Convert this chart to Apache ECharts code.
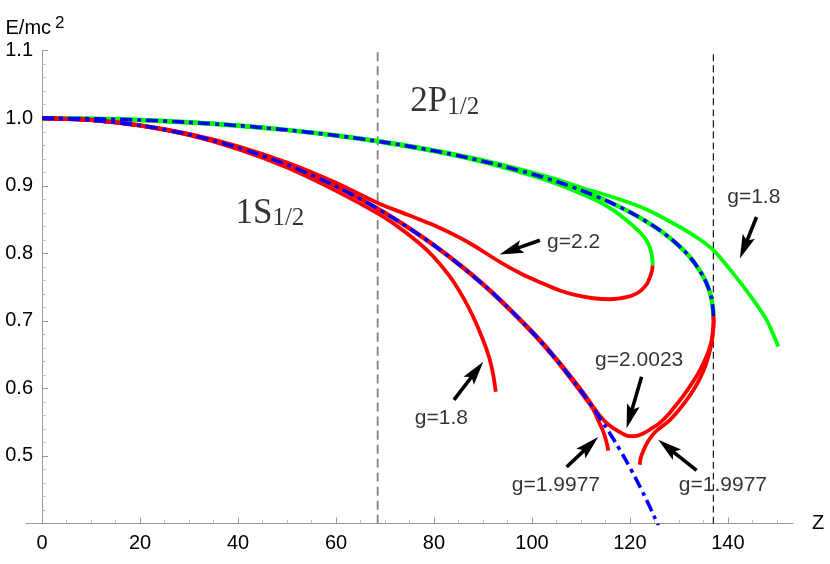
<!DOCTYPE html>
<html><head><meta charset="utf-8">
<script src="https://cdn.jsdelivr.net/npm/echarts@6/dist/echarts.min.js"></script>
<style>html,body{margin:0;padding:0;background:#fff}#c{width:830px;height:564px}</style>
</head><body><div id="c"></div>
<script>
// ---------- axis ticks ----------
const xMajorTicks = [0, 20, 40, 60, 80, 100, 120, 140];
const xMinorTicks = [5,10,15,25,30,35,45,50,55,65,70,75,85,90,95,105,110,115,125,130,135,145,150];
const yTickLabels = [0.5, 0.6, 0.7, 0.8, 0.9, 1.0, 1.1];
const yAxisTitle = 'E/mc';
const yAxisTitleSup = '2';
const xAxisTitle = 'Z';

// ---------- vertical reference lines (Z = 1/(2α), 1/α) ----------
const markerZ = [68.5, 137.036];
const markerE = [0.4, 1.1];

// ---------- Dirac (g = 2) curves, blue dash-dot ----------
const dirac1S = [[0,1.000],[10,0.9973],[20,0.9893],[30,0.9758],[40,0.9565],[50,0.9311],[60,0.8991],[70,0.8597],[80,0.8119],[90,0.7541],[95,0.7207],[100,0.6837],[105,0.6426],[110,0.5964],[113,0.5657],[115,0.5438],[117,0.5206],[119,0.4959],[121,0.4694],[123,0.4409],[125,0.4098],[126,0.3927]];
const dirac2P = [[0,1.000],[10,0.9993],[20,0.9973],[30,0.9939],[40,0.9891],[50,0.9826],[60,0.9744],[70,0.9643],[80,0.9518],[90,0.9365],[100,0.9175],[105,0.9063],[110,0.8934],[115,0.8786],[120,0.8611],[125,0.8396],[128,0.8238],[131,0.8042],[133,0.7877],[135,0.7654],[136,0.7493],[136.6,0.7347],[137,0.7152],[137.04,0.7071]];

// ---------- 2P1/2 (green) ----------
const p2_g20023 = [[0,1.000],[10,0.9993],[20,0.9973],[30,0.9939],[40,0.9891],[50,0.9826],[60,0.9744],[70,0.9643],[80,0.9518],[90,0.9365],[100,0.9175],[105,0.9063],[110,0.8934],[115,0.8786],[120,0.8611],[125,0.8396],[128,0.8238],[131,0.8042],[133,0.7877],[135,0.7654],[136,0.7493],[136.6,0.7347],[137,0.7152],[137.04,0.7071]];
const p2_g22 = [[0,1.000],[10,0.9993],[20,0.9972],[30,0.9938],[40,0.9889],[50,0.9823],[60,0.9739],[70,0.9636],[80,0.9508],[90,0.9350],[100,0.9150],[105,0.9030],[109.8,0.8890],[113.5,0.8770],[116.6,0.8640],[119.3,0.8490],[121.5,0.8350],[122.9,0.8240],[123.9,0.8120],[124.4,0.8000],[124.6,0.7900],[124.65,0.7820]];
const p2_g18 = [[0,1.000],[10,0.9993],[20,0.9974],[30,0.9941],[40,0.9893],[50,0.9829],[60,0.9750],[70,0.9650],[80,0.9528],[90,0.9380],[100,0.9200],[105,0.9095],[110,0.8975],[116.6,0.8830],[123.4,0.8650],[130.2,0.8390],[134,0.8220],[137,0.8050],[141,0.7710],[145.2,0.7310],[148,0.7000],[150.3,0.6620]];

// ---------- 1S1/2 (red) ----------
const s1_g20023 = [[0,1.000],[10,0.9973],[20,0.9894],[30,0.9760],[40,0.9568],[50,0.9315],[60,0.8996],[70,0.8603],[80,0.8126],[90,0.7550],[100,0.6848],[105,0.6440],[110,0.5985],[113,0.5680],[114,0.5585],[115,0.5505],[116,0.5445],[117.2,0.5385],[118.5,0.5330],[119.7,0.5295],[121,0.5295],[122.5,0.5325],[124.3,0.5400],[126.1,0.5490],[127.8,0.5610],[129.5,0.5760],[131.2,0.5920],[132.9,0.6100],[134.0,0.6230],[135.0,0.6370],[136.0,0.6540],[136.7,0.6720],[137.0,0.6880],[137.1,0.7000],[137.04,0.7071]];
const s1_g19977L = [[0,1.000],[10,0.9972],[20,0.9892],[30,0.9756],[40,0.9561],[50,0.9306],[60,0.8986],[70,0.8591],[80,0.8112],[90,0.7532],[100,0.6826],[105,0.6412],[110,0.5943],[111.8,0.5765],[112.8,0.5650],[113.5,0.5530],[114.4,0.5390],[115.1,0.5240],[115.6,0.5080]];
const s1_g19977R = [[122.0,0.4870],[122.2,0.4970],[122.7,0.5070],[123.4,0.5180],[124.3,0.5280],[125.4,0.5370],[126.8,0.5450],[128.2,0.5535],[130.0,0.5680],[131.6,0.5830],[133.0,0.5980],[134.3,0.6150],[135.4,0.6330],[136.2,0.6520],[136.7,0.6680],[137.0,0.6860],[137.08,0.7000],[137.04,0.7071]];
const s1_g22 = [[0,1.000],[10,0.9974],[20,0.9897],[30,0.9768],[40,0.9585],[50,0.9345],[60,0.9045],[68.5,0.8745],[75,0.8560],[80,0.8415],[86.7,0.8175],[93.5,0.7870],[98,0.7690],[102,0.7560],[105.7,0.7450],[109,0.7380],[112.5,0.7335],[116,0.7320],[119.3,0.7350],[121.2,0.7400],[122.4,0.7460],[123.5,0.7550],[124.1,0.7650],[124.5,0.7740],[124.65,0.7820]];
const s1_g18 = [[0,1.000],[10,0.9972],[20,0.9889],[30,0.9748],[40,0.9543],[50,0.9270],[60,0.8925],[68.5,0.8590],[73.1,0.8370],[77,0.8150],[79.9,0.7950],[83.3,0.7650],[86,0.7340],[88,0.7060],[90,0.6720],[91.3,0.6450],[92.1,0.6200],[92.6,0.5950]];

// ---------- annotations ----------
const annotText = ['g=2.2', 'g=1.8', 'g=2.0023', 'g=1.8', 'g=1.9977', 'g=1.9977'];
const annotPos  = [[108.5,0.8171],[145.3,0.8832],[121.9,0.6418],[81.5,0.5557],[104.9,0.4572],[139.0,0.4572]];
const arrowFrom = [[101.63,0.8194],[145.86,0.8538],[122.39,0.6174],[84.08,0.5830],[107.08,0.4836],[133.61,0.4786]];
const arrowTo   = [[93.39,0.7982],[142.45,0.7923],[119.33,0.5412],[90.06,0.6396],[113.53,0.5279],[125.78,0.5239]];
const levelText = ['2P', '1S'];
const levelSub  = '1/2';
const levelPos  = [[82.2,1.0241],[46.5,0.8586]];

const SANS = 'Liberation Sans, Arial, sans-serif';
const SERIF = 'Liberation Serif, Times New Roman, serif';
const RED = '#ff0000', GREEN = '#00ff00', BLUE = '#0000ff';

function curve(name, data, color, width, type, z) {
  return { name, type: 'line', data, symbol: 'none', showSymbol: false, smooth: 0.3, clip: true, silent: true,
    lineStyle: { color, width, type: type || 'solid', cap: 'butt', join: 'round' }, z: z || 2 };
}

// arrow drawn in pixel space from two data points (tail, tip)
function renderArrow(params, api) {
  const p0 = api.coord([api.value(0), api.value(1)]);
  const p1 = api.coord([api.value(2), api.value(3)]);
  const dx = p1[0] - p0[0], dy = p1[1] - p0[1];
  const len = Math.sqrt(dx * dx + dy * dy) || 1;
  const ux = dx / len, uy = dy / len, nx = -uy, ny = ux;
  const L = 24, W = 6.6, N = 0.8 * L;
  const se = [p1[0] - ux * L * 0.7, p1[1] - uy * L * 0.7];
  return {
    type: 'group',
    children: [
      { type: 'line', shape: { x1: p0[0], y1: p0[1], x2: se[0], y2: se[1] },
        style: { stroke: '#000', lineWidth: 3.6, lineCap: 'butt' } },
      { type: 'polygon', shape: { points: [
          [p1[0], p1[1]],
          [p1[0] - ux * L + nx * W, p1[1] - uy * L + ny * W],
          [p1[0] - ux * N, p1[1] - uy * N],
          [p1[0] - ux * L - nx * W, p1[1] - uy * L - ny * W]
        ] }, style: { fill: '#000' } }
    ]
  };
}

const series = [
  curve('Z=68.5', markerE.map(e => [markerZ[0], e]), '#808080', 1.8, [9, 5], 1),
  curve('Z=137', markerE.map(e => [markerZ[1], e]), '#000000', 1.1, [7, 4], 1),
  curve('2P g=2.0023', p2_g20023, GREEN, 4.6),
  curve('2P g=2.2', p2_g22, GREEN, 3.8),
  curve('2P g=1.8', p2_g18, GREEN, 3.8),
  curve('1S g=2.0023', s1_g20023, RED, 3.8),
  curve('1S g=1.9977 a', s1_g19977L, RED, 3.8),
  curve('1S g=1.9977 b', s1_g19977R, RED, 3.8),
  curve('1S g=2.2', s1_g22, RED, 3.8),
  curve('1S g=1.8', s1_g18, RED, 3.8),
  curve('Dirac 1S', dirac1S, BLUE, 3.6, [12, 5, 4, 5], 3),
  curve('Dirac 2P', dirac2P, BLUE, 3.6, [12, 5, 4, 5], 3),
  {
    name: 'arrows', type: 'custom', z: 5, silent: true, clip: false,
    renderItem: renderArrow,
    encode: { x: [0, 2], y: [1, 3] },
    data: arrowFrom.map((f, i) => [f[0], f[1], arrowTo[i][0], arrowTo[i][1]])
  },
  {
    name: 'annotations', type: 'scatter', z: 6, silent: true, symbolSize: 1,
    itemStyle: { color: 'rgba(0,0,0,0)' },
    data: annotText.map((t, i) => ({ name: t, value: annotPos[i] })),
    label: { show: true, position: 'inside', formatter: p => p.name, color: '#000', fontSize: 21, fontFamily: SANS }
  },
  {
    name: 'levels', type: 'scatter', z: 6, silent: true, symbolSize: 1,
    itemStyle: { color: 'rgba(0,0,0,0)' },
    data: levelText.map((t, i) => ({ name: t, value: levelPos[i] })),
    label: {
      show: true, position: 'inside', formatter: p => '{m|' + p.name + '}{s|' + levelSub + '}',
      rich: {
        m: { fontFamily: SERIF, fontSize: 35, color: '#000', verticalAlign: 'bottom' },
        s: { fontFamily: SERIF, fontSize: 25, color: '#000', verticalAlign: 'bottom' }
      }
    }
  }
];

const axisGray = '#9a9a9a';
const option = {
  animation: false,
  backgroundColor: '#ffffff',
  grid: { left: 26, right: 37, top: 50.7, bottom: 40.5, containLabel: false, outerBoundsMode: 'none' },
  graphic: [{
    type: 'text', left: 5.5, top: 15, silent: true, z: 10,
    style: {
      text: '{a|' + yAxisTitle + '}{b|' + yAxisTitleSup + '}',
      rich: {
        a: { fontSize: 20, fill: '#000', fontFamily: SANS },
        b: { fontSize: 17, fill: '#000', fontFamily: SANS, padding: [0, 0, 9, 4] }
      }
    }
  }],
  xAxis: [
    {
      type: 'value', min: -3.3, max: 153.3, position: 'bottom',
      name: xAxisTitle, nameLocation: 'end', nameGap: 19, nameMoveOverlap: false,
      nameTextStyle: { fontSize: 20, color: '#000', fontFamily: SANS, padding: [12, 0, 0, 0] },
      axisLine: { show: true, onZero: false, lineStyle: { color: axisGray, width: 1 } },
      axisTick: { show: true, inside: true, length: 6, customValues: xMajorTicks, lineStyle: { color: axisGray } },
      axisLabel: { show: true, customValues: xMajorTicks, fontSize: 20, color: '#000', fontFamily: SANS, margin: 10,
        formatter: v => (xMajorTicks.indexOf(Math.round(v)) >= 0 && Math.abs(v - Math.round(v)) < 1e-6) ? String(Math.round(v)) : '' },
      splitLine: { show: false }
    },
    {
      type: 'value', min: -3.3, max: 153.3, position: 'bottom',
      axisLine: { show: false, onZero: false },
      axisTick: { show: true, inside: true, length: 3.5, customValues: xMinorTicks, lineStyle: { color: '#bdbdbd' } },
      axisLabel: { show: false },
      splitLine: { show: false }
    }
  ],
  yAxis: {
    type: 'value', min: 0.4, max: 1.1, interval: 0.1,
    axisLine: { show: true, onZero: true, lineStyle: { color: axisGray, width: 1 } },
    axisTick: { show: true, inside: true, length: 6, lineStyle: { color: axisGray } },
    minorTick: { show: true, splitNumber: 5, length: 3.5, lineStyle: { color: '#bdbdbd' } },
    axisLabel: { fontSize: 20, color: '#000', fontFamily: SANS, margin: -7,
      formatter: v => yTickLabels.some(t => Math.abs(t - v) < 1e-6) ? v.toFixed(1) : '' },
    splitLine: { show: false }
  },
  series
};

const chart = echarts.init(document.getElementById('c'), null, { renderer: 'canvas' });
chart.setOption(option);
</script>
</body></html>
